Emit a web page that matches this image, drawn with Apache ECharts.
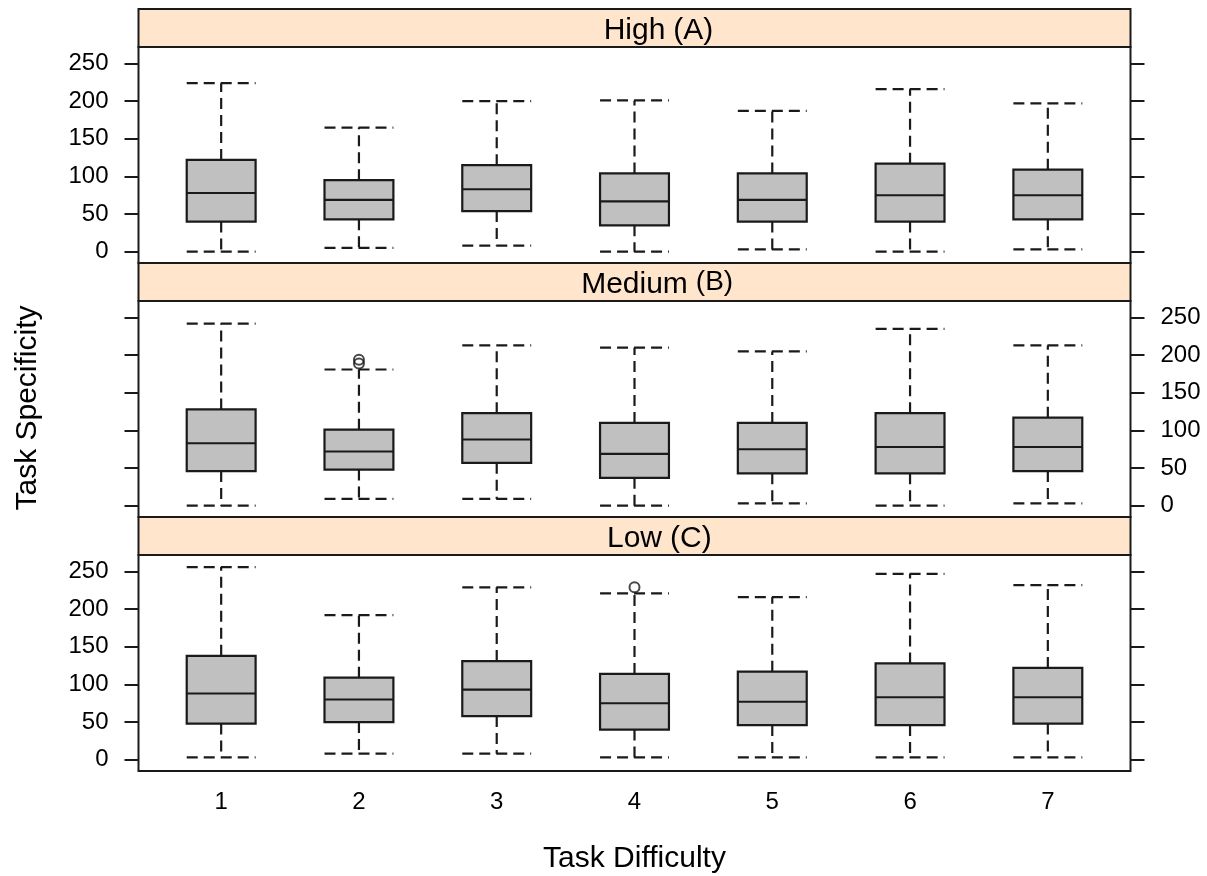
<!DOCTYPE html>
<html>
<head>
<meta charset="utf-8">
<script src="https://cdn.jsdelivr.net/npm/echarts@6/dist/echarts.min.js"></script>
<style>
  html, body { margin: 0; padding: 0; background: #fff; }
  #main { width: 1207px; height: 876px; }
</style>
</head>
<body>
<div id="main"></div>
<script>
const categories = ['1', '2', '3', '4', '5', '6', '7'];
const panels = ['High', 'Medium', 'Low'];
const panelTags = ['(A)', '(B)', '(C)'];
const yTicks = [0, 50, 100, 150, 200, 250];

// each box: [lower whisker, Q1, median, Q3, upper whisker]
const highBoxes = [
    [0, 40, 78, 122, 224],
    [5, 43, 69, 95, 165],
    [8, 54, 83, 115, 200],
    [0, 35, 67, 104, 201],
    [3, 40, 69, 104, 187],
    [0, 40, 75, 117, 216],
    [3, 43, 75, 109, 197]
];
const mediumBoxes = [
    [0, 46, 83, 128, 242],
    [9, 48, 72, 101, 181],
    [9, 57, 88, 123, 213],
    [0, 37, 69, 110, 210],
    [3, 43, 75, 110, 205],
    [0, 43, 78, 123, 235],
    [3, 46, 78, 117, 213]
];
const lowBoxes = [
    [3, 48, 88, 138, 256],
    [8, 50, 80, 109, 192],
    [8, 58, 93, 131, 229],
    [3, 40, 75, 114, 221],
    [3, 46, 77, 117, 216],
    [3, 46, 83, 128, 247],
    [3, 48, 83, 122, 232]
];
// outliers: [category, value]
const highOutliers = [];
const mediumOutliers = [['2', 189], ['2', 194]];
const lowOutliers = [['4', 229]];

const boxSets = [highBoxes, mediumBoxes, lowBoxes];
const outlierSets = [highOutliers, mediumOutliers, lowOutliers];

const FONT = '"Liberation Sans", Arial, sans-serif';
const INK = '#1a1a1a';
const FRAME_LEFT = 138.5;
const FRAME_WIDTH = 992;
const STRIP_H = 38;
const PLOT_H = 216;
const PANEL_H = STRIP_H + PLOT_H;
const TOP = 9;

let chart = echarts.init(document.getElementById('main'));

const measure = document.createElement('canvas').getContext('2d');
measure.font = '30px ' + FONT;

function renderBox(params, api) {
    const x = api.value(0);
    const lo = api.coord([x, api.value(1)]);
    const cx = lo[0];
    const yQ1 = api.coord([x, api.value(2)])[1];
    const yMed = api.coord([x, api.value(3)])[1];
    const yQ3 = api.coord([x, api.value(4)])[1];
    const yHi = api.coord([x, api.value(5)])[1];
    const half = api.size([0.5, 0])[0] / 2;
    const solid = {stroke: INK, lineWidth: 2.2, fill: null};
    const dashed = {stroke: INK, lineWidth: 2.2, lineDash: [11, 6], fill: null};
    return {
        type: 'group',
        children: [
            {type: 'line', shape: {x1: cx, y1: yQ3, x2: cx, y2: yHi}, style: dashed},
            {type: 'line', shape: {x1: cx, y1: yQ1, x2: cx, y2: lo[1]}, style: dashed},
            {type: 'line', shape: {x1: cx - half, y1: yHi, x2: cx + half, y2: yHi}, style: dashed},
            {type: 'line', shape: {x1: cx - half, y1: lo[1], x2: cx + half, y2: lo[1]}, style: dashed},
            {
                type: 'rect',
                shape: {x: cx - half, y: yQ3, width: half * 2, height: yQ1 - yQ3},
                style: {fill: '#c0c0c0', stroke: INK, lineWidth: 2.2}
            },
            {type: 'line', shape: {x1: cx - half, y1: yMed, x2: cx + half, y2: yMed}, style: solid}
        ]
    };
}

let grids = [], xAxes = [], yAxes = [], series = [], graphics = [];

panels.forEach((name, i) => {
    const top = TOP + i * PANEL_H;
    grids.push({
        left: FRAME_LEFT, width: FRAME_WIDTH, top: top + STRIP_H, height: PLOT_H,
        show: true, borderColor: INK, borderWidth: 2, backgroundColor: '#fff'
    });

    xAxes.push({
        gridIndex: i,
        type: 'value',
        min: 0.4,
        max: 7.6,
        axisLine: {show: false},
        axisTick: {show: false},
        splitLine: {show: false},
        axisLabel: i === 2 ? {
            customValues: categories.map((c, k) => k + 1),
            formatter: v => categories[Math.round(v) - 1],
            fontSize: 24, fontFamily: FONT, color: '#000', margin: 19
        } : {show: false},
        name: i === 2 ? 'Task Difficulty' : '',
        nameLocation: 'middle',
        nameGap: 73,
        nameTextStyle: {fontSize: 30, fontFamily: FONT, color: '#000'}
    });

    // lattice alternates the labelled side: left, right, left
    ['left', 'right'].forEach(side => {
        const labelled = (side === 'left') === (i !== 1);
        yAxes.push({
            gridIndex: i,
            type: 'value',
            position: side,
            min: -15,
            max: 272,
            axisLine: {show: false},
            splitLine: {show: false},
            axisTick: {show: true, length: 14, customValues: yTicks, lineStyle: {color: INK, width: 2}},
            axisLabel: {
                show: labelled, customValues: yTicks,
                fontSize: 24, fontFamily: FONT, color: '#000', margin: 30
            }
        });
    });

    series.push({
        type: 'custom',
        xAxisIndex: i,
        yAxisIndex: i * 2,
        renderItem: renderBox,
        encode: {x: 0, y: [1, 2, 3, 4, 5]},
        data: boxSets[i].map((b, k) => [k + 1].concat(b)),
        z: 3
    });
    series.push({
        type: 'scatter',
        xAxisIndex: i,
        yAxisIndex: i * 2,
        symbol: 'circle',
        symbolSize: 10,
        itemStyle: {color: 'rgba(0,0,0,0)', borderColor: INK, borderWidth: 2},
        data: outlierSets[i].map(o => [categories.indexOf(o[0]) + 1, o[1]]),
        z: 4
    });

    // strip with the panel name, and the tag set after it
    const cx = FRAME_LEFT + FRAME_WIDTH / 2;
    const w = measure.measureText(name).width;
    graphics.push({
        type: 'rect',
        shape: {x: FRAME_LEFT, y: top, width: FRAME_WIDTH, height: STRIP_H},
        style: {fill: '#ffe5cc', stroke: INK, lineWidth: 2},
        z: 10
    });
    graphics.push({
        type: 'text', x: cx, y: top + STRIP_H / 2 + 3, z: 11,
        style: {text: name, font: '30px ' + FONT, fill: '#000', textAlign: 'center', textVerticalAlign: 'middle'}
    });
    graphics.push({
        type: 'text', x: cx + w / 2 + 8, y: top + STRIP_H / 2 + (i === 1 ? 0 : 3), z: 11,
        style: {text: panelTags[i], font: (i === 1 ? '28px ' : '30px ') + FONT, fill: '#000', textAlign: 'left', textVerticalAlign: 'middle'}
    });
});

graphics.push({
    type: 'text', x: 28, y: 408, rotation: Math.PI / 2,
    style: {text: 'Task Specificity', font: '30px ' + FONT, fill: '#000', textAlign: 'center', textVerticalAlign: 'middle'}
});

let option = {
    animation: false,
    backgroundColor: '#fff',
    grid: grids,
    xAxis: xAxes,
    yAxis: yAxes,
    series: series,
    graphic: graphics
};
option && chart.setOption(option);
</script>
</body>
</html>
